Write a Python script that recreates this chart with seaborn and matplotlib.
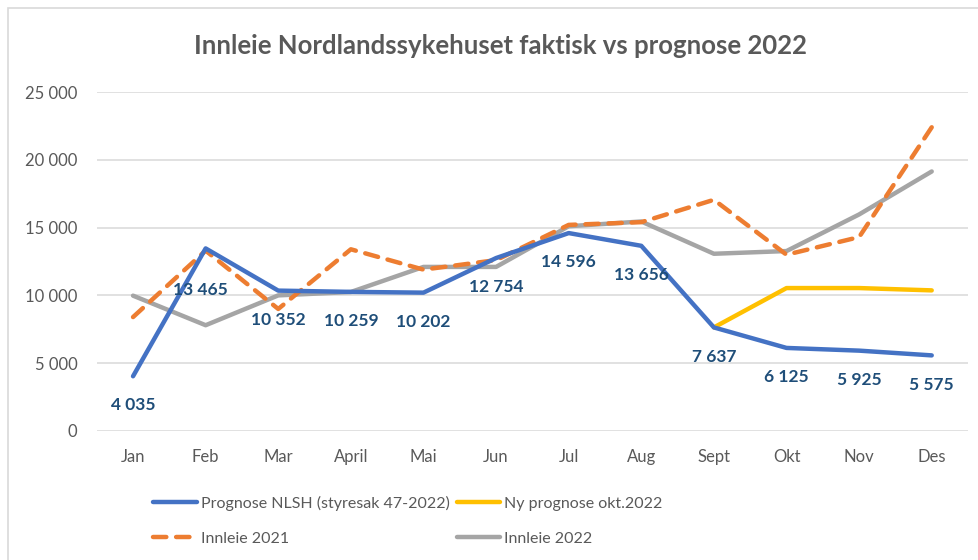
import numpy as np
import pandas as pd
import matplotlib
matplotlib.use("Agg")
import matplotlib.pyplot as plt
import matplotlib.ticker as mticker
import seaborn as sns

months = ["Jan", "Feb", "Mar", "April", "Mai", "Jun", "Jul", "Aug", "Sept", "Okt", "Nov", "Des"]

# Prognose NLSH (styresak 47-2022)
prognose = [4035, 13465, 10352, 10259, 10202, 12754, 14596, 13656, 7637, 6125, 5925, 5575]
# Ny prognose okt.2022 (starts in Sept)
ny_prognose = [np.nan] * 8 + [7637, 10540, 10540, 10370]
# Innleie 2021
innleie_2021 = [8400, 13300, 9000, 13400, 11900, 12600, 15200, 15400, 17050, 13000, 14300, 22400]
# Innleie 2022
innleie_2022 = [9980, 7800, 10000, 10250, 12100, 12100, 15100, 15450, 13070, 13270, 15970, 19140]

sns.set_theme(style="white")
plt.rcParams["font.family"] = ["Lato", "DejaVu Sans"]

grey_txt = "#595959"
label_col = "#1F4E79"

fig = plt.figure(figsize=(9.79, 5.6), dpi=100)
ax = fig.add_axes([0.0988, 0.2304, 0.89, 0.6053])

x = np.arange(len(months))

df = pd.DataFrame({"x": x, "prognose": prognose, "ny": ny_prognose,
                   "i2021": innleie_2021, "i2022": innleie_2022})

sns.lineplot(data=df, x="x", y="i2022", ax=ax, color="#A5A5A5", lw=3.2,
             label="Innleie 2022", solid_capstyle="round")
sns.lineplot(data=df, x="x", y="i2021", ax=ax, color="#ED7D31", lw=3.2,
             label="Innleie 2021", dashes=False)
ax.lines[-1].set_dashes((3, 2.2))
ax.lines[-1].set_dash_capstyle("round")
sns.lineplot(data=df.dropna(subset=["ny"]), x="x", y="ny", ax=ax, color="#FFC000", lw=3.2,
             label="Ny prognose okt.2022", solid_capstyle="round")
sns.lineplot(data=df, x="x", y="prognose", ax=ax, color="#4472C4", lw=3.2,
             label="Prognose NLSH (styresak 47-2022)", solid_capstyle="round")


def fmt(v):
    return f"{int(round(v)):,}".replace(",", " ")


for i, (xi, v) in enumerate(zip(x, prognose)):
    dy = -30 if i == 1 else -21   # Feb label sits lower in the original
    ax.annotate(fmt(v), (xi, v), xytext=(-4 if i == 1 else 0, dy), textcoords="offset points",
                ha="center", va="center", fontsize=12.5, fontweight="bold", color=label_col)

ax.set_xlim(-0.5, 11.5)
ax.set_ylim(0, 25000)
ax.set_yticks(np.arange(0, 25001, 5000))
ax.yaxis.set_major_formatter(mticker.FuncFormatter(lambda v, p: fmt(v)))
ax.set_xticks(x)
ax.set_xticklabels(months)
ax.tick_params(axis="both", colors=grey_txt, labelsize=12, length=0)
ax.tick_params(axis="x", pad=13)
ax.tick_params(axis="y", pad=14)
ax.grid(axis="y", color="#D9D9D9", lw=1.1)
ax.set_axisbelow(True)
for s in ax.spines.values():
    s.set_visible(False)
ax.set_xlabel("")
ax.set_ylabel("")

fig.text(0.511, 0.918, "Innleie Nordlandssykehuset faktisk vs prognose 2022",
         ha="center", va="center", fontsize=18.5, fontweight="bold", color=grey_txt)

h, l = ax.get_legend_handles_labels()
order = ["Prognose NLSH (styresak 47-2022)", "Innleie 2021", "Ny prognose okt.2022", "Innleie 2022"]
hh = [h[l.index(o)] for o in order]
ax.legend(hh, order, ncol=2, loc="upper left", bbox_to_anchor=(0.142, 0.14),
          bbox_transform=fig.transFigure, frameon=False, fontsize=11.5,
          handlelength=2.7, handletextpad=0.3, columnspacing=0.4, labelspacing=1.3,
          labelcolor=grey_txt)

# chart area border
fig.add_artist(plt.Rectangle((8 / 979, -0.1), 1.2, 1 - 8 / 560 + 0.1, transform=fig.transFigure,
                             fill=False, edgecolor="#D9D9D9", lw=1.2))

fig.savefig("out.png", dpi=100)
